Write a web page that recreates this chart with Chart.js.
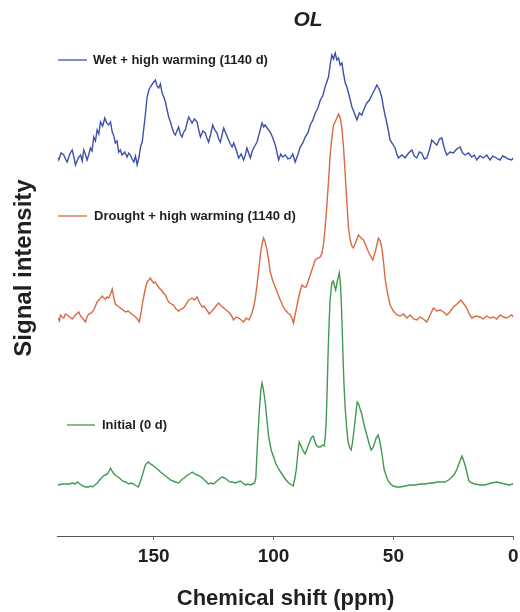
<!DOCTYPE html>
<html>
<head>
<meta charset="utf-8">
<style>
  html, body { margin: 0; padding: 0; background: #fff; }
  #wrap { width: 520px; height: 612px; position: relative; }
</style>
<script src="https://cdn.jsdelivr.net/npm/chart.js@4/dist/chart.umd.min.js"></script>
</head>
<body>
<div id="wrap"><canvas id="c" width="520" height="612"></canvas></div>
<script>
// ---- data (chemical shift in ppm, relative signal intensity) ----
const seriesNames = ["Wet + high warming (1140 d)", "Drought + high warming (1140 d)", "Initial (0 d)"];
const seriesOffsets = [376, 218, 50];   // vertical stacking of the spectra
const xTicks = [150, 100, 50, 0];

const wetHigh = [[190,2],[189.6,0],[188.6,7],[187.5,5],[186.8,1],[186.1,-2],[185,6],[184,10],[183.3,3],[182.6,-5],[181.5,2],[180.5,5],[179.8,-1],[179.2,10],[178.5,6],[177.8,0],[177.1,5],[176.4,12],[175.7,9],[175,23],[174.3,19],[173.6,30],[172.9,26],[172.2,38],[171.3,34],[170.4,42],[169.6,37],[168.75,35],[168,38],[167.3,28],[166.6,24],[166,17],[165.3,19],[164.6,8],[163.9,10],[163.2,5],[162.1,8],[161.1,3],[160.4,7],[159.7,5],[159,1],[158.3,-2],[157.6,4],[156.9,-5],[156.2,2],[155.5,13],[154.8,18],[154.2,30],[153.5,45],[152.75,63],[152,70],[151.4,73],[150.3,77],[149.3,80],[148.6,74],[147.9,72],[147.2,76],[146.5,67],[145.8,63],[145.1,58],[144.4,50],[143.75,43],[143,38],[142.3,32],[141.6,27],[141,25],[140.3,29],[139.6,33],[138.9,26],[138.2,23],[137.5,28],[136.8,30],[136.1,37],[135.4,43],[134.7,40],[134,37],[133,41],[131.9,38],[131.2,30],[130.5,23],[129.5,29],[128.5,27],[127.8,22],[127.1,18],[126.2,26],[125.4,35],[124.5,30],[123.6,27],[122.9,21],[122.2,18],[121.5,25],[120.8,32],[119.8,26],[118.75,20],[118,16],[117.3,13],[116.6,17],[116,13],[115.3,8],[114.6,2],[113.5,6],[112.5,0],[111.8,5],[111.1,12],[110.4,7],[109.7,2],[109,8],[108.3,12],[107.6,15],[106.9,18],[105.8,28],[104.8,37],[104.1,33],[103.5,35],[102.4,31],[101.4,28],[100.3,22],[99.3,15],[98.6,8],[97.9,0],[97,6],[96.2,3],[95.1,5],[94,1],[93,2],[92,6],[91,-2],[89.9,5],[88.9,13],[87.8,17],[86.8,23],[85.7,27],[84.7,35],[83.6,40],[82.6,47],[81.5,52],[80.5,60],[79.5,64],[78.5,73],[77.8,78],[77.1,83],[76.4,95],[75.7,105],[75,101],[74.3,107],[73.6,100],[72.9,102],[72.2,95],[71.5,97],[70.8,86],[70.1,77],[69.4,73],[68.75,67],[68,60],[67.3,53],[66.3,47],[65.25,40],[64.2,47],[63.2,45],[62.1,52],[61.1,57],[60,60],[59,65],[57.9,70],[56.9,75],[56.2,72],[55.5,68],[54.8,62],[54.2,53],[53.5,45],[52.75,37],[52,28],[51.4,20],[50.3,16],[49.3,12],[48.6,6],[47.9,2],[46.5,5],[45.1,2],[43.7,7],[42.3,10],[41.3,4],[40.25,2],[39.2,8],[38.2,7],[37.1,1],[36.1,2],[35,10],[34,20],[32.9,17],[31.9,15],[30.8,21],[29.8,22],[28.8,12],[27.75,5],[26.4,8],[25,7],[23.6,11],[22.2,13],[21.1,7],[20.1,5],[18.7,7],[17.3,3],[16.3,5],[15.25,0],[13.9,4],[12.5,2],[11.1,5],[9.7,0],[8.6,4],[7.6,3],[6.5,1],[5.5,0],[4.5,4],[3.5,3],[2.1,1],[0.7,0],[0,2]];

const droughtHigh = [[190,0],[189.3,-3],[188.9,3],[188.2,1],[187.5,0],[186.8,4],[186.1,3],[185,1],[184,-1],[182.6,3],[181.25,6],[180.5,2],[179.8,0],[179.1,-2],[178.5,-4],[177.8,1],[177.1,4],[176,5],[175,8],[174.3,12],[173.6,16],[172.5,19],[171.5,22],[170.8,20],[170.1,19],[169.4,21],[168.75,20],[168,24],[167.3,29],[166.6,20],[166,14],[165,12],[163.9,10],[162.8,8],[161.8,6],[160.7,7],[159.7,5],[158.6,3],[157.6,1],[156.8,-1],[156,-4],[155.3,5],[154.6,16],[153.7,27],[152.75,36],[152,38],[151.4,40],[150.7,37],[150,35],[149.3,36],[148.6,33],[147.7,30],[146.8,28],[146,25],[145.1,23],[144.4,19],[143.75,16],[142.7,14],[141.7,13],[140.7,9],[139.6,7],[138.5,9],[137.5,10],[136.4,14],[135.4,18],[134.7,19],[134,20],[133,18],[131.9,21],[130.8,15],[129.8,11],[129.1,12],[128.5,10],[127.6,7],[126.8,4],[125.7,7],[124.6,10],[123.7,13],[122.9,15],[121.8,12],[120.8,10],[119.8,8],[118.75,6],[117.7,3],[116.7,-2],[115.6,1],[114.6,0],[113.5,-2],[112.5,-4],[111.4,0],[110.3,-2],[109.3,3],[108.3,11],[107.6,20],[106.9,33],[106.2,48],[105.5,63],[104.8,74],[104.2,80],[103.5,76],[102.75,68],[102,57],[101.4,46],[100.3,37],[99.3,31],[98.2,24],[97.2,18],[96.1,12],[95.1,8],[94,5],[93,3],[92.3,0],[91.7,-5],[90.6,8],[89.6,20],[88.8,28],[88.1,33],[87.2,31],[86.4,31],[85.5,37],[84.7,43],[83.6,51],[82.6,58],[81.5,60],[80.5,61],[79.8,65],[79.2,73],[78.5,90],[77.75,113],[77,140],[76.4,163],[75.7,180],[75,193],[74.3,196],[73.6,200],[72.9,204],[72.2,200],[71.5,190],[70.8,170],[70.1,143],[69.4,115],[68.75,90],[68,78],[67.4,72],[66.7,70],[65.7,76],[64.6,83],[63.5,80],[62.5,78],[61.4,72],[60.4,66],[59.5,62],[58.6,58],[57.4,68],[56.25,80],[55.5,77],[54.8,70],[54.1,55],[53.5,40],[52.4,24],[51.4,13],[50,7],[48.6,3],[47.2,2],[45.8,4],[44.4,0],[43,3],[41.6,-1],[40.25,-2],[38.9,1],[37.5,-1],[36.1,-4],[34.7,3],[33.3,10],[31.9,7],[30.5,8],[29.1,6],[27.75,3],[26.4,6],[25,11],[23.5,14],[21.9,18],[20.6,14],[19.4,10],[18.4,4],[17.3,0],[15.6,2],[13.9,1],[12.5,-1],[11.1,2],[9.7,0],[8.3,1],[6.9,-1],[5.5,3],[4.1,1],[2.75,0],[1.5,2],[0.7,3],[0,1]];

const initial = [[190,1],[189.7,1],[188.3,2],[186.8,2],[185.3,2],[183.9,3],[182.8,2],[181.8,4],[180.7,2],[179.7,0],[178.4,-1],[177.2,-1],[176.3,0],[175.5,-1],[174.5,1],[173.5,3],[172.2,7],[171,10],[170.2,11],[169.3,12],[168.6,15],[168,18],[167.4,15],[166.8,13],[166.1,11],[165.5,10],[164.3,8],[163,5],[161.7,4],[160.5,2],[159.5,3],[158.5,2],[157.8,1],[157.2,0],[156.4,-1],[155.6,4],[154.7,11],[153.5,21],[152.8,23],[152.2,24],[151.4,22],[150.5,21],[149.7,19],[148.9,18],[148,16],[147.2,14],[146.1,12],[145.1,10],[144,8],[143,6],[142,5],[141,4],[139.7,3],[138.8,5],[138,7],[137.2,8],[136.4,10],[135.1,12],[133.9,14],[132.8,12],[131.8,11],[130.7,10],[129.7,8],[128.4,5],[127.2,2],[126.1,3],[125.1,2],[124.1,4],[123.1,6],[122.2,8],[121.4,9],[120.5,8],[119.7,7],[118.8,5],[118,4],[117,4],[116,3],[114.9,4],[113.9,5],[112.8,3],[111.8,1],[110.7,2],[109.7,1],[108.8,2],[107.9,3],[107.4,8],[106.9,34],[106.4,57],[105.9,77],[105.3,96],[104.8,103],[104.2,96],[103.5,84],[102.8,67],[102.1,50],[101,36],[100,29],[99,22],[97.9,17],[96.5,12],[95.1,7],[93.7,3],[92.3,1],[91.8,0],[91.1,8],[90.5,17],[89.9,32],[89.3,44],[88.7,41],[88,37],[87.4,34],[86.8,32],[85.9,38],[85.1,43],[84.3,48],[83.5,50],[82.8,45],[82.2,41],[81.3,39],[80.5,39],[79.7,41],[78.9,40],[78.4,50],[78,67],[77.6,100],[77.2,137],[76.8,165],[76.4,187],[75.7,203],[75.1,205],[74.6,200],[74.1,196],[73.4,205],[72.6,213],[72.2,205],[71.8,187],[71.4,160],[71,127],[70.6,100],[70.1,77],[69.5,58],[68.9,44],[68.2,38],[67.6,36],[67,45],[66.4,57],[65.8,70],[65.1,84],[64.5,82],[63.9,77],[63.2,72],[62.6,65],[61.8,57],[60.9,49],[60.1,42],[59.3,36],[58.6,38],[58,42],[57.2,48],[56.4,51],[55.8,46],[55.1,37],[54.5,27],[53.9,17],[53,10],[52.2,5],[51.2,2],[50.1,0],[48.7,-1],[47.2,-1],[45.1,0],[43,1],[41,1],[38.9,2],[36.8,2],[34.7,3],[33.2,3],[31.8,4],[30.1,4],[28.5,4],[27,6],[25.6,9],[24.5,12],[23.5,17],[22.4,24],[21.4,30],[20.5,24],[19.7,17],[19,10],[18.5,5],[17.3,3],[16,2],[14,1],[11.8,1],[9.3,3],[6.8,4],[5.2,3],[3.5,2],[1.7,1],[0.1,2],[0,2]];

const seriesData = [wetHigh, droughtHigh, initial];
const seriesColors = ["#3e50ad", "#d96a42", "#3f9a50"];

// ---- chart ----
const FONT = "'Liberation Sans', Arial, Helvetica, sans-serif";
const TEXT = "#231f20";
Chart.defaults.font.family = FONT;
Chart.defaults.color = TEXT;

const datasets = seriesData.map((arr, i) => ({
  label: seriesNames[i],
  data: arr.map(p => ({ x: p[0], y: p[1] + seriesOffsets[i] })),
  borderColor: seriesColors[i],
  borderWidth: 1.4,
  pointRadius: 0,
  tension: 0,
  fill: false
}));

const labelPlugin = {
  id: 'spectraLabels',
  afterDraw(chart, args, opts) {
    const ctx = chart.ctx;
    ctx.save();
    // title
    ctx.fillStyle = TEXT;
    ctx.font = "italic bold 21px " + FONT;
    ctx.textAlign = 'center';
    ctx.textBaseline = 'middle';
    ctx.fillText(opts.title, opts.titleX, opts.titleY);
    // inline legend entries
    ctx.font = "bold 13px " + FONT;
    ctx.textAlign = 'left';
    opts.entries.forEach((e, i) => {
      ctx.strokeStyle = seriesColors[i];
      ctx.lineWidth = 1.3;
      ctx.beginPath();
      ctx.moveTo(e.x1, e.y);
      ctx.lineTo(e.x2, e.y);
      ctx.stroke();
      ctx.fillStyle = TEXT;
      ctx.fillText(seriesNames[i], e.tx, e.y + 0.5);
    });
    ctx.restore();
  }
};

new Chart(document.getElementById('c'), {
  type: 'line',
  data: { datasets },
  plugins: [labelPlugin],
  options: {
    responsive: false,
    animation: false,
    events: [],
    layout: { padding: { left: 0, right: 0, top: 0, bottom: 0 } },
    plugins: {
      legend: { display: false },
      tooltip: { enabled: false },
      spectraLabels: {
        title: 'OL', titleX: 308, titleY: 20,
        entries: [
          { x1: 58, x2: 87, y: 60, tx: 93 },
          { x1: 58, x2: 87, y: 216, tx: 94 },
          { x1: 67, x2: 95, y: 425, tx: 102 }
        ]
      }
    },
    scales: {
      x: {
        type: 'linear',
        reverse: true,
        min: 0,
        max: 190,
        afterBuildTicks: axis => { axis.ticks = xTicks.map(v => ({ value: v })); },
        afterFit: axis => { axis.paddingRight = 6.7; },
        ticks: { font: { size: 19, weight: 'bold', lineHeight: 1.4 }, color: TEXT, padding: 3, maxRotation: 0 },
        grid: { display: true, drawOnChartArea: false, drawTicks: true, tickLength: 4, color: '#666', lineWidth: 1 },
        border: { display: true, color: '#555', width: 1 },
        title: { display: true, text: 'Chemical shift (ppm)', font: { size: 22, weight: 'bold' }, color: TEXT, padding: { top: 13, bottom: 0 } }
      },
      y: {
        type: 'linear',
        min: 0,
        max: 536,
        ticks: { display: false },
        grid: { display: false, drawTicks: false },
        border: { display: false },
        title: { display: true, text: 'Signal intensity', font: { size: 24, weight: 'bold' }, color: TEXT, padding: { top: 10, bottom: 19 } }
      }
    }
  }
});
</script>
</body>
</html>
